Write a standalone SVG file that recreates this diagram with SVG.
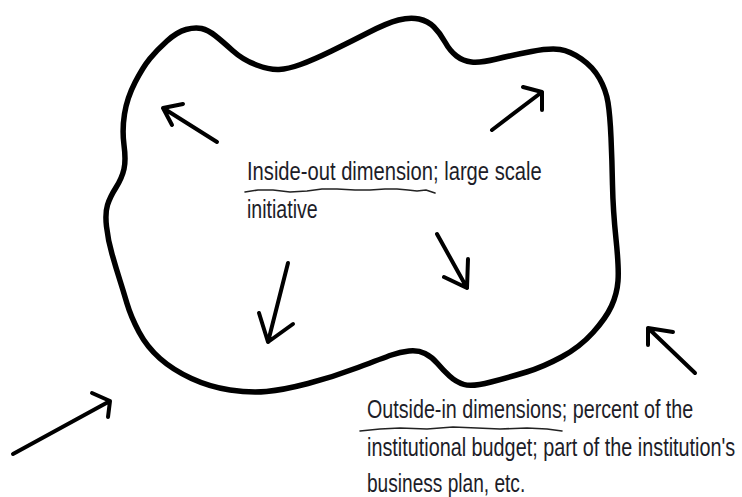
<svg xmlns="http://www.w3.org/2000/svg" width="742" height="497" viewBox="0 0 742 497">
<style>
.blob{fill:none;stroke:#000;stroke-width:5.5;stroke-linejoin:round;stroke-linecap:round}
.arr{fill:none;stroke:#000;stroke-width:4;stroke-linecap:round;stroke-linejoin:round}
.ul{fill:none;stroke:#222;stroke-width:1.6;stroke-linecap:round;stroke-linejoin:round}
.t{font-family:"Liberation Sans","DejaVu Sans",sans-serif;font-size:26.5px;fill:#1d1d28}
</style>
<rect width="742" height="497" fill="#fff"/>
<g id="blob">
<path class="blob" d="M124.5,114 Q127,98 135,82.5 Q143,67 150,58.5 Q157,50 167,41 Q177,32 186,29.5 Q195,27 201.5,28.5 Q208,30 215,35.5 Q222,41 232.5,50.5 Q243,60 256.5,65 Q270,70 279,69.5 Q288,69 300.5,64.5 Q313,60 331.5,51 Q350,42 368.5,32.5 Q387,23 398.5,20 Q410,17 419,19 Q428,21 434,27 Q440,33 445,42 Q450,51 456.5,56 Q463,61 471.5,62 Q480,63 496.5,59 Q513,55 531.5,51.5 Q550,48 560,49.5 Q570,51 581.5,59 Q593,67 599.5,78.5 Q606,90 608,102.5 Q610,115 611,137.5 Q612,160 612.5,185 Q613,210 616,239 Q619,268 618,281 Q617,294 611.5,306 Q606,318 593,332.5 Q580,347 561.5,357 Q543,367 526.5,372 Q510,377 491,382 Q472,387 464,384.5 Q456,382 449.5,376 Q443,370 437.5,363.5 Q432,357 425,353.5 Q418,350 409,351 Q400,352 391.5,355 Q383,358 358,367.5 Q333,377 308,383.5 Q283,390 266.5,391.5 Q250,393 230,390 Q210,387 191.5,378.5 Q173,370 160,358.5 Q147,347 139,332 Q131,317 127,303.5 Q123,290 119.5,279 Q116,268 112,254 Q108,240 106.5,226.5 Q105,213 107.5,205 Q110,197 116,187.5 Q122,178 124,169 Q126,160 124,145 Q122,130 124.5,114 Z"/>
</g>
<g id="connectors">
<g id="arrow-up-left"><path class="arr" d="M217,142 L163,108 M183,104 L163,108 L172,125"/></g>
<g id="arrow-up-right"><path class="arr" d="M492,130 L542,92 M523,87 L542,92 L542,110"/></g>
<g id="arrow-down-left"><path class="arr" d="M288,263 L268,342 M259,313 L268,342 L293,324"/></g>
<g id="arrow-down-right"><path class="arr" d="M437,234 L467,288 M444,277 L467,288 L468,259"/></g>
<g id="arrow-outside-right"><path class="arr" d="M695,373 L648,328 M673,332 L648,328 L648,345"/></g>
<g id="arrow-outside-left"><path class="arr" d="M13,454 L110,401 M92,393 L110,401 L108,417"/></g>
</g>
<g id="label-inside">
<text class="t" transform="translate(247,180) scale(0.7,1)" x="0" y="0" textLength="421" lengthAdjust="spacingAndGlyphs">Inside-out dimension; large scale</text>
<text class="t" transform="translate(247,218) scale(0.7,1)" x="0" y="0" textLength="101" lengthAdjust="spacingAndGlyphs">initiative</text>
<path class="ul" d="M245,192 L258,190 L273,190 L290,192 L307,191 L322,189 L337,189 L355,190 L370,190 L385,189 L397,189 L408,190 L417,191 L426,190 L435,193"/>
</g>
<g id="label-outside">
<text class="t" transform="translate(367,418) scale(0.7,1)" x="0" y="0" textLength="466" lengthAdjust="spacingAndGlyphs">Outside-in dimensions; percent of the</text>
<text class="t" transform="translate(367,456) scale(0.7,1)" x="0" y="0" textLength="526" lengthAdjust="spacingAndGlyphs">institutional budget; part of the institution's</text>
<text class="t" transform="translate(367,492) scale(0.7,1)" x="0" y="0" textLength="226" lengthAdjust="spacingAndGlyphs">business plan, etc.</text>
<path class="ul" d="M360,431 L380,429 L400,428 L427,429 L453,427 L477,428 L500,429 L527,428 L547,429 L562,431"/>
</g>
</svg>
